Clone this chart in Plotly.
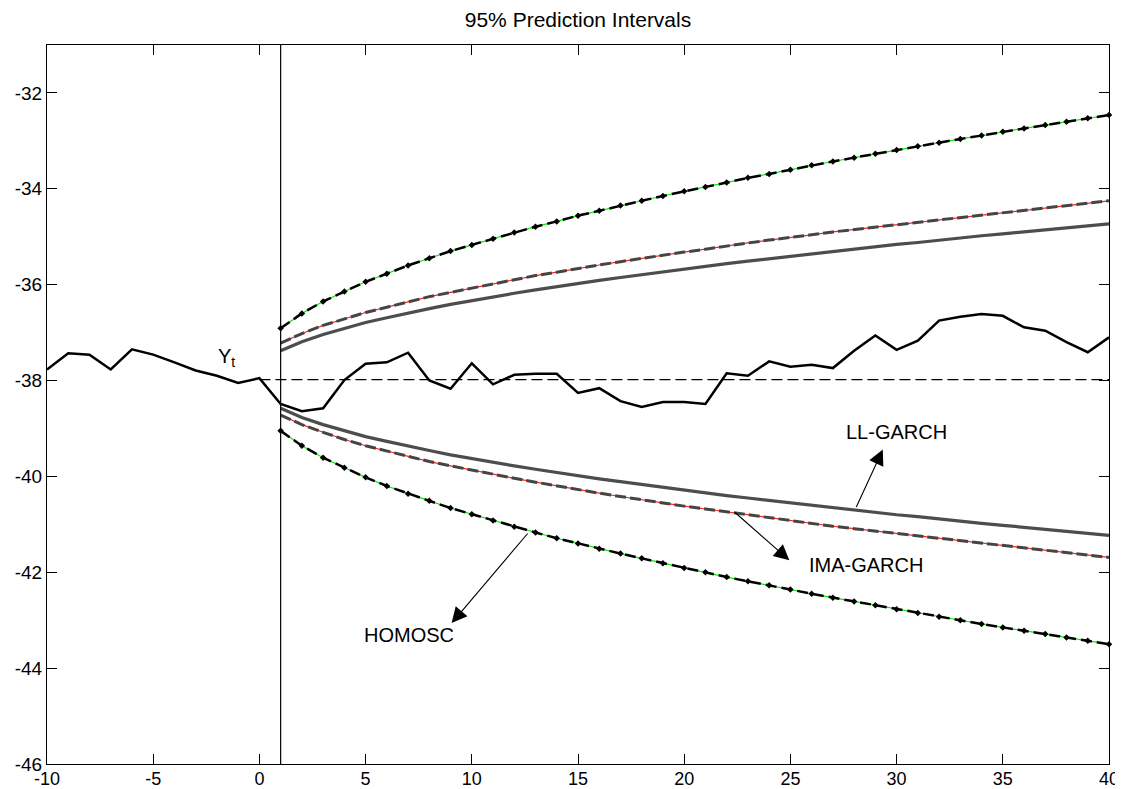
import plotly.graph_objects as go

# ---------------- data ----------------
t_obs = list(range(-10, 41))
y_obs = [-37.77, -37.43, -37.46, -37.77, -37.35, -37.46, -37.62, -37.79, -37.90, -38.05,
         -37.95, -38.49, -38.64, -38.58, -37.99, -37.65, -37.62, -37.42, -38.00, -38.17,
         -37.64, -38.08, -37.88, -37.86, -37.86, -38.26, -38.16, -38.43, -38.55, -38.45,
         -38.45, -38.49, -37.85, -37.90, -37.60, -37.71, -37.67, -37.74, -37.38, -37.06,
         -37.36, -37.17, -36.75, -36.67, -36.61, -36.65, -36.89, -36.96, -37.20, -37.41,
         -37.10]

horizon = list(range(1, 41))
point_forecast = -37.98
forecast_x = [0] + horizon
forecast_origin = 1

homosc_up = [-36.91, -36.60, -36.35, -36.14, -35.94, -35.77, -35.60, -35.45, -35.30, -35.17,
             -35.04, -34.91, -34.79, -34.68, -34.56, -34.46, -34.35, -34.25, -34.15, -34.05,
             -33.96, -33.87, -33.77, -33.69, -33.60, -33.51, -33.43, -33.35, -33.27, -33.19,
             -33.11, -33.04, -32.96, -32.89, -32.81, -32.74, -32.67, -32.60, -32.53, -32.46]
homosc_lo = [-39.05, -39.36, -39.61, -39.82, -40.02, -40.20, -40.36, -40.51, -40.66, -40.79,
             -40.92, -41.05, -41.17, -41.29, -41.40, -41.51, -41.61, -41.71, -41.81, -41.91,
             -42.00, -42.10, -42.19, -42.27, -42.36, -42.45, -42.53, -42.61, -42.69, -42.77,
             -42.85, -42.93, -43.00, -43.08, -43.15, -43.22, -43.29, -43.36, -43.43, -43.50]
ima_up = [-37.22, -37.02, -36.85, -36.71, -36.58, -36.47, -36.36, -36.25, -36.16, -36.07,
          -35.98, -35.90, -35.81, -35.74, -35.66, -35.59, -35.52, -35.45, -35.38, -35.32,
          -35.26, -35.19, -35.13, -35.07, -35.02, -34.96, -34.90, -34.85, -34.79, -34.74,
          -34.69, -34.64, -34.59, -34.54, -34.49, -34.44, -34.39, -34.34, -34.30, -34.25]
ima_lo = [-38.72, -38.92, -39.08, -39.23, -39.36, -39.47, -39.58, -39.69, -39.78, -39.87,
          -39.96, -40.04, -40.12, -40.20, -40.28, -40.35, -40.42, -40.49, -40.55, -40.62,
          -40.68, -40.74, -40.81, -40.86, -40.92, -40.98, -41.04, -41.09, -41.14, -41.20,
          -41.25, -41.30, -41.35, -41.40, -41.45, -41.50, -41.55, -41.59, -41.64, -41.69]
ll_up = [-37.38, -37.19, -37.04, -36.91, -36.79, -36.69, -36.59, -36.50, -36.41, -36.33,
         -36.26, -36.18, -36.11, -36.04, -35.98, -35.91, -35.85, -35.79, -35.73, -35.67,
         -35.62, -35.56, -35.51, -35.46, -35.40, -35.35, -35.30, -35.26, -35.21, -35.16,
         -35.12, -35.07, -35.03, -34.98, -34.94, -34.90, -34.85, -34.81, -34.77, -34.73]
ll_lo = [-38.58, -38.77, -38.92, -39.05, -39.17, -39.27, -39.37, -39.46, -39.55, -39.63,
         -39.70, -39.78, -39.85, -39.92, -39.98, -40.05, -40.11, -40.17, -40.23, -40.29,
         -40.34, -40.40, -40.45, -40.50, -40.56, -40.61, -40.66, -40.70, -40.75, -40.80,
         -40.84, -40.89, -40.93, -40.98, -41.02, -41.06, -41.11, -41.15, -41.19, -41.23]

x_ticks = [-10, -5, 0, 5, 10, 15, 20, 25, 30, 35, 40]
x_ticktext = ["-10", "-5", "0", "5", "10", "15", "20", "25", "30", "35", "40"]
y_ticks = [-46, -44, -42, -40, -38, -36, -34, -32]
y_ticktext = ["-46", "-44", "-42", "-40", "-38", "-36", "-34", "-32"]

# label name, label x, label y, arrow head x, head y, tail x, tail y
labels = [
    ("LL-GARCH", 30.0, -39.08, 29.35, -39.44, 28.07, -40.67),
    ("IMA-GARCH", 28.57, -41.85, 24.95, -41.75, 22.31, -40.72),
    ("HOMOSC", 7.05, -43.31, 9.05, -43.06, 12.69, -41.16),
]

FONT = "Liberation Sans, Arial, Helvetica, sans-serif"

fig = go.Figure()

# LL-GARCH: solid gray
for ys in (ll_up, ll_lo):
    fig.add_trace(go.Scatter(x=horizon, y=ys, mode="lines",
                             line=dict(color="#4d4d4d", width=3.2), showlegend=False))
# IMA-GARCH: red under dark dashes
for ys in (ima_up, ima_lo):
    fig.add_trace(go.Scatter(x=horizon, y=ys, mode="lines",
                             line=dict(color="#ff2020", width=1.2), showlegend=False))
    fig.add_trace(go.Scatter(x=horizon, y=ys, mode="lines",
                             line=dict(color="#454545", width=3, dash="11px,4px"),
                             showlegend=False))
# HOMOSC: green under black dashes + markers
for ys in (homosc_up, homosc_lo):
    fig.add_trace(go.Scatter(x=horizon, y=ys, mode="lines",
                             line=dict(color="#00ee00", width=1.2), showlegend=False))
    fig.add_trace(go.Scatter(x=horizon, y=ys, mode="lines+markers",
                             line=dict(color="black", width=2.5, dash="11px,5px"),
                             marker=dict(symbol="diamond", size=5, color="black"),
                             cliponaxis=False, showlegend=False))

# point forecast (dashed)
fig.add_trace(go.Scatter(x=forecast_x, y=[point_forecast] * len(forecast_x), mode="lines",
                         line=dict(color="black", width=1.2, dash="11px,5px"),
                         showlegend=False))
# observed series
fig.add_trace(go.Scatter(x=t_obs, y=y_obs, mode="lines",
                         line=dict(color="black", width=2.5), showlegend=False))

fig.add_vline(x=forecast_origin, line=dict(color="black", width=1.2))

annotations = [
    dict(x=-1.55, y=-37.52, xref="x", yref="y", text="Y<sub>t</sub>", showarrow=False,
         font=dict(family=FONT, size=20, color="black"))
]
for name, lx, ly, hx, hy, tx, ty in labels:
    annotations.append(dict(x=lx, y=ly, xref="x", yref="y", text=name, showarrow=False,
                            font=dict(family=FONT, size=20, color="black")))
    annotations.append(dict(x=hx, y=hy, ax=tx, ay=ty, xref="x", yref="y",
                            axref="x", ayref="y", text="", showarrow=True,
                            arrowhead=2, arrowsize=2.8, arrowwidth=1.1,
                            arrowcolor="black", standoff=0, startstandoff=0))

# the page body adds an 8px offset; the figure size and margins compensate for it
fig.update_layout(
    width=1115, height=781,
    paper_bgcolor="white", plot_bgcolor="white",
    margin=dict(l=39, r=14, t=37, b=25, autoexpand=False),
    title=dict(text="95% Prediction Intervals", x=0.5, xref="paper", xanchor="center",
               y=1 - 12 / 781, yref="container", yanchor="middle",
               font=dict(family=FONT, size=21, color="black")),
    annotations=annotations,
    font=dict(family=FONT, size=19, color="black"),
)
fig.update_xaxes(range=[-10, 40], tickvals=x_ticks, ticktext=x_ticktext,
                 ticks="inside", ticklen=10, tickcolor="black", tickwidth=1,
                 showline=True, linecolor="black", linewidth=1, mirror="ticks",
                 showgrid=False, zeroline=False, automargin=False,
                 ticklabelstandoff=-2,
                 tickfont=dict(family=FONT, size=18, color="black"))
fig.update_yaxes(range=[-46, -31], tickvals=y_ticks, ticktext=y_ticktext,
                 ticks="inside", ticklen=10, tickcolor="black", tickwidth=1,
                 showline=True, linecolor="black", linewidth=1, mirror="ticks",
                 showgrid=False, zeroline=False, automargin=False,
                 tickfont=dict(family=FONT, size=19, color="black"))

fig.write_html("out.html")
